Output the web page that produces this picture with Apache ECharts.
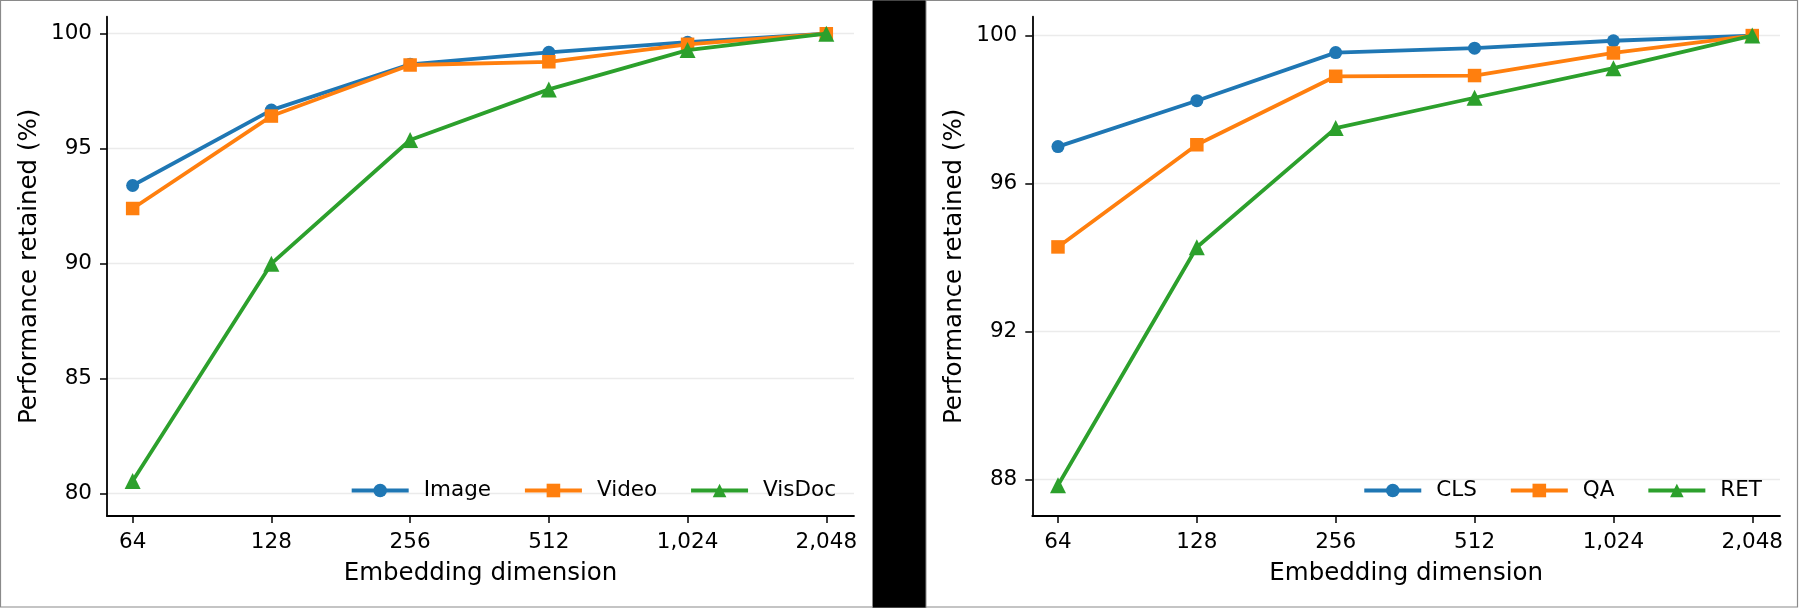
<!DOCTYPE html>
<html><head><meta charset="utf-8">
<script src="https://cdn.jsdelivr.net/npm/echarts@6/dist/echarts.min.js"></script>
<style>html,body{margin:0;padding:0;background:#fff}#c{width:1800px;height:608px}</style>
</head><body><div id="c"></div>
<script>
// ---- data ----
const dims = [64, 128, 256, 512, 1024, 2048];
const xTickValues = [64, 128, 256, 512, 1024, 2048];

const leftNames = ['Image', 'Video', 'VisDoc'];
const imageVals = [93.40, 96.68, 98.67, 99.19, 99.63, 100];
const videoVals = [92.40, 96.42, 98.64, 98.78, 99.54, 100];
const visdocVals = [80.55, 90.00, 95.38, 97.58, 99.29, 100];
const leftYTicks = [80, 85, 90, 95, 100];

const rightNames = ['CLS', 'QA', 'RET'];
const clsVals = [97.00, 98.24, 99.54, 99.66, 99.86, 100];
const qaVals = [94.29, 97.05, 98.90, 98.92, 99.53, 100];
const retVals = [87.85, 94.28, 97.50, 98.32, 99.12, 100];
const rightYTicks = [88, 92, 96, 100];

const xName = 'Embedding dimension';
const yName = 'Performance retained (%)';

// ---- styles ----
const FONT = 'DejaVu Sans';
const colors = ['#1f77b4', '#ff7f0e', '#2ca02c'];
const symbols = ['circle', 'rect', 'triangle'];
const symbolSizes = [13, 13.5, 16];
const LW = 3.8;

function xAxisCfg(gi) {
  return {
    type: 'log', logBase: 2, gridIndex: gi,
    min: 56.3, max: 2352,
    name: xName, nameLocation: 'middle', nameGap: 45,
    nameTextStyle: {fontFamily: FONT, fontSize: 24.5, color: '#000'},
    axisLine: {show: true, onZero: false, lineStyle: {color: '#000', width: 1.8}},
    axisTick: {show: true, inside: false, length: 7, lineStyle: {color: '#000', width: 1.5}, customValues: xTickValues},
    axisLabel: {show: true, margin: 15, fontFamily: FONT, fontSize: 21.5, color: '#000',
      customValues: xTickValues,
      formatter: v => Math.round(v).toLocaleString('en-US')},
    splitLine: {show: false}, minorTick: {show: false}, minorSplitLine: {show: false}
  };
}
function yAxisCfg(gi, mn, mx, ticks) {
  return {
    type: 'value', gridIndex: gi, min: mn, max: mx,
    name: yName, nameLocation: 'middle', nameGap: 65, nameRotate: 90,
    nameTextStyle: {fontFamily: FONT, fontSize: 24.5, color: '#000'},
    axisLine: {show: true, onZero: false, lineStyle: {color: '#000', width: 1.8}},
    axisTick: {show: true, inside: false, length: 7, lineStyle: {color: '#000', width: 1.5}, customValues: ticks},
    axisLabel: {show: true, margin: 15, fontFamily: FONT, fontSize: 21.5, color: '#000', customValues: ticks},
    splitLine: {show: true, lineStyle: {color: '#ebebeb', width: 1.3}}
  };
}
function mkSeries(name, vals, k, gi) {
  return {
    type: 'line', name: name, xAxisIndex: gi, yAxisIndex: gi,
    data: dims.map((d, i) => [d, vals[i]]),
    symbol: symbols[k], symbolSize: symbolSizes[k], showSymbol: true,
    lineStyle: {color: colors[k], width: LW},
    itemStyle: {color: colors[k]},
    emphasis: {disabled: true}, z: 3 + k
  };
}
function legendCfg(names, rightPx) {
  return {
    data: names, orient: 'horizontal', right: rightPx, top: 479.5, padding: 0,
    itemWidth: 57, itemHeight: 17, itemGap: 32,
    lineStyle: {width: LW},
    textStyle: {fontFamily: FONT, fontSize: 21.5, color: '#000', padding: [0, 0, 0, 10]},
    selectedMode: false
  };
}

const chart = echarts.init(document.getElementById('c'), null, {renderer: 'canvas'});
chart.setOption({
  animation: false,
  backgroundColor: '#fff',
  graphic: [
    {type: 'rect', z: -10, shape: {x: 0.5, y: 0.5, width: 1797, height: 606.5}, style: {fill: '#fff', stroke: '#8a8a8a', lineWidth: 1.2}},
    {type: 'rect', z: -9, shape: {x: 872.5, y: 0, width: 53.5, height: 608}, style: {fill: '#000', stroke: '#8a8a8a', lineWidth: 1}}
  ],
  grid: [
    {left: 107, top: 16.7, width: 747, height: 499.3, outerBoundsMode: 'none', containLabel: false},
    {left: 1032.3, top: 16.7, width: 747.7, height: 499.3, outerBoundsMode: 'none', containLabel: false}
  ],
  xAxis: [xAxisCfg(0), xAxisCfg(1)],
  yAxis: [yAxisCfg(0, 79.03, 100.74, leftYTicks), yAxisCfg(1, 87.02, 100.51, rightYTicks)],
  legend: [legendCfg(leftNames, 964), legendCfg(rightNames, 38)],
  series: [
    mkSeries(leftNames[0], imageVals, 0, 0),
    mkSeries(leftNames[1], videoVals, 1, 0),
    mkSeries(leftNames[2], visdocVals, 2, 0),
    mkSeries(rightNames[0], clsVals, 0, 1),
    mkSeries(rightNames[1], qaVals, 1, 1),
    mkSeries(rightNames[2], retVals, 2, 1)
  ]
});
</script></body></html>
